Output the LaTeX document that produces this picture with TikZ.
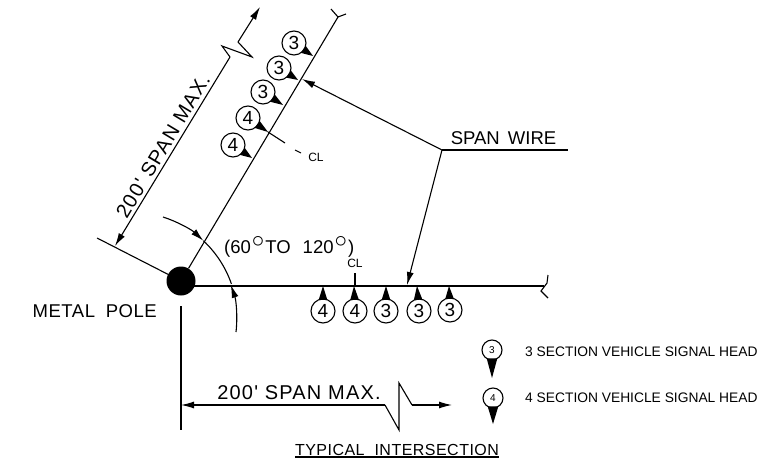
\documentclass[tikz,border=0pt]{standalone}
\usepackage{fontspec}
\setmainfont{Liberation Sans}
\newfontfamily\cadwide[LetterSpace=6]{Liberation Sans}
\newfontfamily\cadmid[LetterSpace=3]{Liberation Sans}
\usetikzlibrary{arrows.meta,calc}
\tikzstyle{wire}=[line width=1.1pt, line join=miter]
\tikzstyle{dimarrow}=[wire, -{Latex[length=13pt,width=7pt]}]
\tikzstyle{bigtext}=[inner sep=0pt, font=\fontsize{18.5}{20}\selectfont]
\tikzstyle{midtext}=[inner sep=0pt, font=\cadmid\fontsize{18.5}{20}\selectfont]
\tikzstyle{dimtext}=[inner sep=0pt, font=\cadwide\fontsize{20}{22}\selectfont]
\tikzstyle{legendtext}=[inner sep=0pt, anchor=west, font=\fontsize{13.8}{15}\selectfont]
\tikzstyle{cltext}=[inner sep=0pt, font=\fontsize{12}{13}\selectfont]
\newcommand{\degmark}{\raisebox{6pt}{\fontsize{24}{24}\selectfont$\circ$}}
\newcommand{\sighead}[4]{
 \node[draw, circle, line width=1.1pt, minimum size=24pt, inner sep=0pt, font=\fontsize{19}{19}\selectfont] (#1) at #2 {#4};
 \fill ($#2!12pt!21:#3$) -- #3 -- ($#2!12pt!-21:#3$) -- cycle;
}
\newcommand{\legendhead}[4]{
 \node[draw, circle, line width=1.1pt, minimum size=20pt, inner sep=0pt, font=\fontsize{10}{10}\selectfont] (#1) at #2 {#4};
 \fill ($#2!10pt!32:#3$) -- #3 -- ($#2!10pt!-32:#3$) -- cycle;
}
\begin{document}
\begin{tikzpicture}[x=1pt, y=-1pt]
 \useasboundingbox (0,0) rectangle (769,463);
 \node[circle, fill=black, minimum size=29pt, inner sep=0pt] (pole) at (181,281) {};
%
 \coordinate (hstart) at (190,286);
 \coordinate (hend) at (544,286);
 \coordinate (diagend) at (338,17);
 \draw[wire] (hstart) -- (hend);
 \draw[wire] (548,275) -- (547,283) -- (541,291) -- (548,298);
 \draw[wire] (pole) -- (diagend);
 \draw[wire] (331,9) -- (diagend) -- (346,14);
%
 \sighead{h1}{(294,43)}{(313,56)}{3}
 \sighead{h2}{(279,68)}{(298,80)}{3}
 \sighead{h3}{(263,92)}{(283,105)}{3}
 \sighead{h4}{(248,118)}{(268,132)}{4}
 \sighead{h5}{(233,145)}{(252,158)}{4}
 \sighead{v1}{(323,311)}{(323,286)}{4}
 \sighead{v2}{(355,311)}{(354,286)}{4}
 \sighead{v3}{(386,311)}{(386,286)}{3}
 \sighead{v4}{(419,311)}{(417,286)}{3}
 \sighead{v5}{(450,310)}{(449,286)}{3}
%
 \coordinate (wirejoint) at (442,150);
 \coordinate (wireend) at (568,150);
 \coordinate (diagtip) at (302,79);
 \coordinate (horiztip) at (407,285);
 \draw[wire] (wirejoint) -- (wireend);
 \draw[dimarrow] (wirejoint) -- (diagtip);
 \draw[dimarrow] (wirejoint) -- (horiztip);
 \node[bigtext] (spanwire) at (503.5,138) {SPAN\hspace{3pt} WIRE};
%
 \draw[wire] (268,132) -- (285,143);
 \draw[wire] (295,150) -- (301,153);
 \node[cltext] (clupper) at (316,157) {CL};
 \node[cltext] (cllower) at (355,263) {CL};
 \coordinate (clstem) at (355,273);
 \draw[wire] (clstem) -- (355,286);
%
 \coordinate (tickstart) at (97,238);
 \draw[wire] (tickstart) -- (pole);
 \draw[wire] (230,57) -- (222,46) -- (252,57) -- (238,42);
 \draw[dimarrow] (238,42) -- (260,7);
 \draw[dimarrow] (230,57) -- (115,246);
 \node[dimtext, rotate=59] (dimupper) at (163,146) {200' SPAN MAX.};
%
 \draw[wire, -{Latex[length=13pt,width=7pt]}] (163,217) arc (72.2:46.9:107pt) coordinate (arctop);
 \draw[wire] (arctop) arc (46.9:19.1:107pt);
 \draw[wire, -{Latex[length=13pt,width=7pt]}] (236,332) arc (-6.5:19.1:107pt);
 \node[bigtext, anchor=west] (angle) at (224,247) {(60\hspace{1pt}\degmark\hspace{1pt}TO\hspace{12pt}120\hspace{1pt}\degmark\hspace{1pt})};
%
 \node[midtext, anchor=east] (metalpole) at (157,311) {METAL\hspace{5pt} POLE};
%
 \coordinate (vtop) at (181,306);
 \coordinate (vbot) at (181,430);
 \draw[wire] (vtop) -- (vbot);
 \draw[dimarrow] (385,405) -- (181,405);
 \draw[wire] (385,405) -- (399,430) -- (399,383) -- (412,405);
 \draw[dimarrow] (412,405) -- (452,405);
 \node[dimtext] (dimlower) at (299,393) {200' SPAN MAX.};
%
 \legendhead{l3}{(492,350)}{(492,378)}{3}
 \legendhead{l4}{(493,398)}{(493,424)}{4}
 \node[legendtext] (legend3) at (525,351.5) {3 SECTION VEHICLE SIGNAL HEAD};
 \node[legendtext] (legend4) at (525,397.5) {4 SECTION VEHICLE SIGNAL HEAD};
%
 \node[inner sep=0pt, font=\cadmid\fontsize{16}{17}\selectfont] (title) at (397,449.5) {TYPICAL\hspace{5pt} INTERSECTION};
 \draw[wire] (295,457) -- (499,457);
\end{tikzpicture}
\end{document}
